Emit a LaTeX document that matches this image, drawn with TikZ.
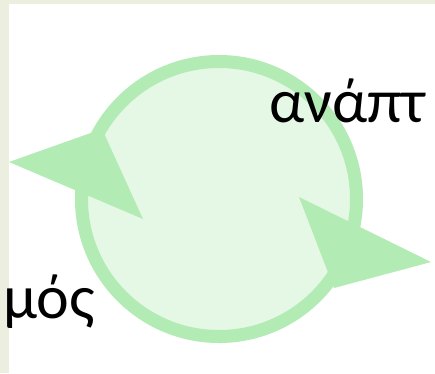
\documentclass[tikz,border=0pt]{standalone}
\usepackage{fontspec}
\setmainfont{Carlito}
\definecolor{ringgreen}{HTML}{B3EBB5}
\definecolor{fillgreen}{HTML}{E5F8E5}
\definecolor{edgebeige}{HTML}{ECEFDF}
\begin{document}
\begin{tikzpicture}[x=1pt,y=-1pt,
  label/.style={font=\fontsize{62}{66}\selectfont, inner sep=0pt, anchor=base west, text=black},
  arrowfill/.style={fill=ringgreen, draw=none}]
  \useasboundingbox (0,0) rectangle (435,373);
  \fill[white] (0,0) rectangle (435,373);
  % pale frame along the top and left edges
  \fill[edgebeige] (0,0) rectangle (435,4);
  \fill[edgebeige] (0,0) rectangle (8.5,373);
  % cycle ring
  \coordinate (c) at (219,199);
  \draw[ringgreen, line width=13pt, fill=fillgreen] (c) circle[radius=137.5];
  % arrowheads on the ring
  \fill[arrowfill] (9,162) -- (102,129) -- (143,219) -- cycle;
  \fill[arrowfill] (431,262) -- (299,197) -- (334,288) -- cycle;
  % labels
  \node[label] (top) at (269,122) {ανάπτ};
  \node[label] (bottom) at (3,318) {μός};
\end{tikzpicture}
\end{document}
